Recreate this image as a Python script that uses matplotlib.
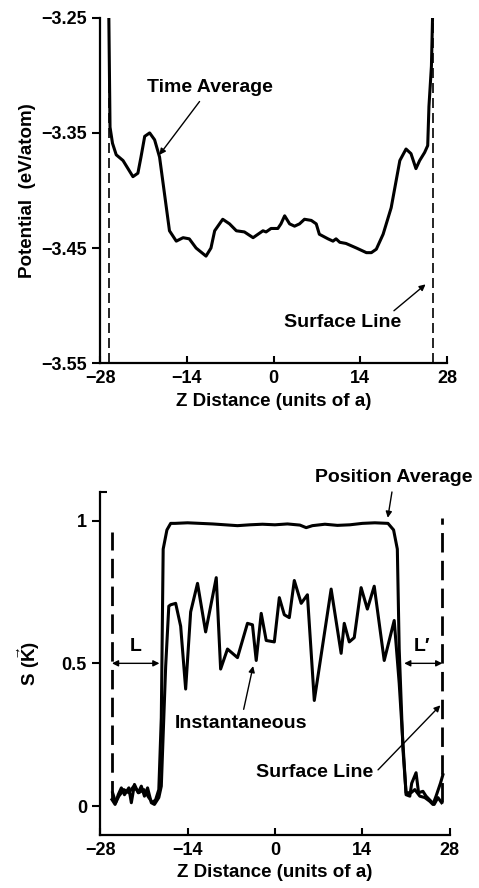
import matplotlib
matplotlib.use("Agg")
import matplotlib.pyplot as plt
from matplotlib.ticker import FixedLocator

plt.rcParams['font.family'] = ['Liberation Sans', 'DejaVu Sans']
plt.rcParams['font.weight'] = 'bold'
plt.rcParams['mathtext.fontset'] = 'custom'
plt.rcParams['mathtext.rm'] = 'Liberation Sans:bold'
plt.rcParams['mathtext.bf'] = 'Liberation Sans:bold'
plt.rcParams['mathtext.it'] = 'Liberation Sans:bold'

# top panel: time averaged potential
z_pot = [-26.6, -26.4, -26.0, -25.4, -24.3, -22.7, -21.9, -21.4, -20.8, -20.0, -19.2,
         -18.4, -17.9, -17.3, -16.8, -15.7, -14.6, -13.6, -12.5, -10.9, -10.1, -9.5,
         -8.2, -7.1, -6.0, -4.7, -3.3, -1.7, -1.2, -0.4, 0.7, 1.2, 1.8, 2.6, 3.4, 4.2,
         5.0, 6.1, 6.9, 7.4, 8.8, 9.6, 10.1, 10.7, 11.7, 13.4, 15.0, 15.8, 16.6, 17.7,
         19.0, 20.4, 21.4, 22.2, 23.0, 23.6, 24.4, 24.9, 25.1, 25.5, 25.7]
potential = [-3.245, -3.345, -3.359, -3.369, -3.374, -3.388, -3.385, -3.371, -3.353, -3.350,
             -3.356, -3.371, -3.391, -3.415, -3.435, -3.444, -3.441, -3.442, -3.450, -3.457,
             -3.450, -3.435, -3.425, -3.429, -3.435, -3.436, -3.441, -3.435, -3.436, -3.433,
             -3.433, -3.429, -3.422, -3.429, -3.431, -3.429, -3.425, -3.426, -3.429, -3.438,
             -3.442, -3.444, -3.442, -3.445, -3.446, -3.450, -3.454, -3.454, -3.451, -3.438,
             -3.415, -3.374, -3.364, -3.368, -3.381, -3.374, -3.367, -3.361, -3.327, -3.292,
             -3.245]
surf_top = [-26.5, 25.7]

# bottom panel: structure factor
z_avg = [-26.0, -25.5, -25.0, -24.2, -23.4, -22.6, -21.8, -21.0, -20.2, -19.6, -19.1, -18.6,
         -18.2, -17.9, -17.3, -16.7, -16.0, -14.0, -12.0, -10.0, -8.0, -6.0, -4.0, -2.0,
         0.0, 2.0, 4.0, 5.0, 6.0, 8.0, 10.0, 12.0, 14.0, 16.0, 18.1, 19.0, 19.6, 19.9,
         20.5, 21.0, 21.8, 22.4, 23.2, 24.0, 24.8, 25.3, 25.8, 26.5, 26.9]
s_avg = [0.047, 0.012, 0.035, 0.058, 0.047, 0.07, 0.047, 0.058, 0.03, 0.012, 0.023, 0.058,
         0.31, 0.90, 0.967, 0.99, 0.99, 0.992, 0.99, 0.988, 0.985, 0.982, 0.985, 0.987,
         0.985, 0.988, 0.984, 0.975, 0.982, 0.987, 0.983, 0.985, 0.99, 0.992, 0.99, 0.967,
         0.90, 0.55, 0.198, 0.047, 0.047, 0.058, 0.035, 0.03, 0.017, 0.006, 0.035, 0.08, 0.11]

z_inst = [-26.1, -25.6, -25.1, -24.6, -24.1, -23.4, -23.0, -22.5, -21.9, -21.4, -20.9, -20.4,
          -19.8, -19.3, -18.6, -18.2, -17.5, -17.0, -16.7, -15.9, -15.1, -14.3, -13.5, -12.4,
          -11.1, -9.4, -8.7, -7.6, -6.0, -4.4, -3.6, -3.0, -2.2, -1.4, -0.1, 0.7, 1.5, 2.3,
          3.1, 4.2, 5.2, 6.3, 9.0, 10.6, 11.1, 11.9, 12.7, 13.8, 14.8, 15.9, 17.5, 19.1,
          19.9, 20.5, 21.0, 21.6, 21.9, 22.6, 23.0, 23.7, 24.2, 25.0, 25.5, 26.1, 26.7]
s_inst = [0.023, 0.006, 0.04, 0.064, 0.04, 0.064, 0.012, 0.076, 0.047, 0.07, 0.035, 0.064,
          0.012, 0.006, 0.03, 0.07, 0.49, 0.70, 0.705, 0.71, 0.63, 0.41, 0.68, 0.78,
          0.61, 0.80, 0.48, 0.55, 0.52, 0.64, 0.635, 0.51, 0.675, 0.58, 0.575, 0.73, 0.67, 0.66,
          0.79, 0.71, 0.74, 0.37, 0.76, 0.535, 0.64, 0.575, 0.59, 0.765, 0.69, 0.77, 0.51, 0.65,
          0.43, 0.22, 0.04, 0.035, 0.08, 0.117, 0.047, 0.052, 0.035, 0.017, 0.006, 0.03, 0.012]
surf_bot = [-26.1, 26.8]
surf_bot_lo = [0.02, 0.013]
surf_bot_hi = [0.96, 1.01]

x_ticks = [-28, -14, 0, 14, 28]

fig = plt.figure(figsize=(4.79, 8.88), dpi=100)
ax1 = fig.add_axes([0.209, 0.591, 0.724, 0.389])
ax2 = fig.add_axes([0.209, 0.060, 0.730, 0.386])

for ax in (ax1, ax2):
    ax.spines['top'].set_visible(False)
    ax.spines['right'].set_visible(False)
    ax.spines['left'].set_linewidth(1.6)
    ax.spines['bottom'].set_linewidth(1.6)
    ax.set_xlim(-28, 28)
    ax.set_xticks(x_ticks)
    ax.set_xticklabels([str(t).replace('-', '\u2212') for t in x_ticks])
    ax.tick_params(axis='x', direction='in', length=5, width=1.5, labelsize=13, pad=5)
    ax.tick_params(axis='y', direction='out', length=6, width=1.5, labelsize=13)
    ax.set_xlabel('Z Distance (units of a)', fontsize=13.5, fontweight='bold', labelpad=4)

# top
ax1.plot(z_pot, potential, color='black', lw=2.2)
for zs in surf_top:
    ax1.plot([zs, zs], [-3.55, -3.25], color='black', lw=1.2, dashes=(6, 3))
ax1.set_ylim(-3.55, -3.25)
ax1.set_yticks([-3.25, -3.35, -3.45, -3.55])
ax1.set_yticklabels(['\u22123.25', '\u22123.35', '\u22123.45', '\u22123.55'])
ax1.set_ylabel('Potential  (eV/atom)', fontsize=13.5, fontweight='bold', labelpad=4)
ap = dict(arrowstyle='-|>', color='black', lw=1.0, mutation_scale=9)
ax1.annotate('Time Average', xy=(-18.7, -3.371), xytext=(-10.3, -3.311),
             ha='center', va='center', fontsize=14, fontweight='bold', arrowprops=ap)
ax1.annotate('', xy=(24.9, -3.480), xytext=(19.1, -3.506), arrowprops=ap)
ax1.text(11.1, -3.515, 'Surface Line', ha='center', va='center', fontsize=14, fontweight='bold')

# bottom
ax2.plot(z_avg, s_avg, color='black', lw=2.2)
ax2.plot(z_inst, s_inst, color='black', lw=2.2)
for zs, lo, hi in zip(surf_bot, surf_bot_lo, surf_bot_hi):
    ax2.plot([zs, zs], [lo, hi], color='black', lw=2.0, dashes=(7, 3))
ax2.set_ylim(-0.1, 1.1)
ax2.set_yticks([0, 0.5, 1])
ax2.set_yticklabels(['0', '0.5', '1'])
ax2.yaxis.set_minor_locator(FixedLocator([1.1]))
ax2.tick_params(axis='y', which='minor', direction='in', length=5, width=1.5)
ax2.set_ylabel(r'$\mathrm{S\ (\vec{K})}$', fontsize=13.5, labelpad=14)

ax2.annotate('Position Average', xy=(18.0, 1.0), xytext=(19.1, 1.149),
             ha='center', va='center', fontsize=14, fontweight='bold', arrowprops=ap,
             annotation_clip=False)
dap = dict(arrowstyle='<|-|>', color='black', lw=1.0, mutation_scale=9, shrinkA=0, shrinkB=0)
ax2.annotate('', xy=(-26.1, 0.5), xytext=(-18.5, 0.5), arrowprops=dap)
ax2.annotate('', xy=(20.7, 0.5), xytext=(26.8, 0.5), arrowprops=dap)
ax2.text(-22.3, 0.56, 'L', ha='center', va='center', fontsize=14, fontweight='bold')
ax2.text(23.5, 0.56, "L\u2032", ha='center', va='center', fontsize=14, fontweight='bold')
ax2.annotate('Instantaneous', xy=(-3.4, 0.50), xytext=(-5.5, 0.29),
             ha='center', va='center', fontsize=14, fontweight='bold', arrowprops=ap)
ax2.annotate('', xy=(26.8, 0.36), xytext=(16.2, 0.12), arrowprops=ap)
ax2.text(6.3, 0.117, 'Surface Line', ha='center', va='center', fontsize=14, fontweight='bold')

fig.savefig('out.png', dpi=100)
